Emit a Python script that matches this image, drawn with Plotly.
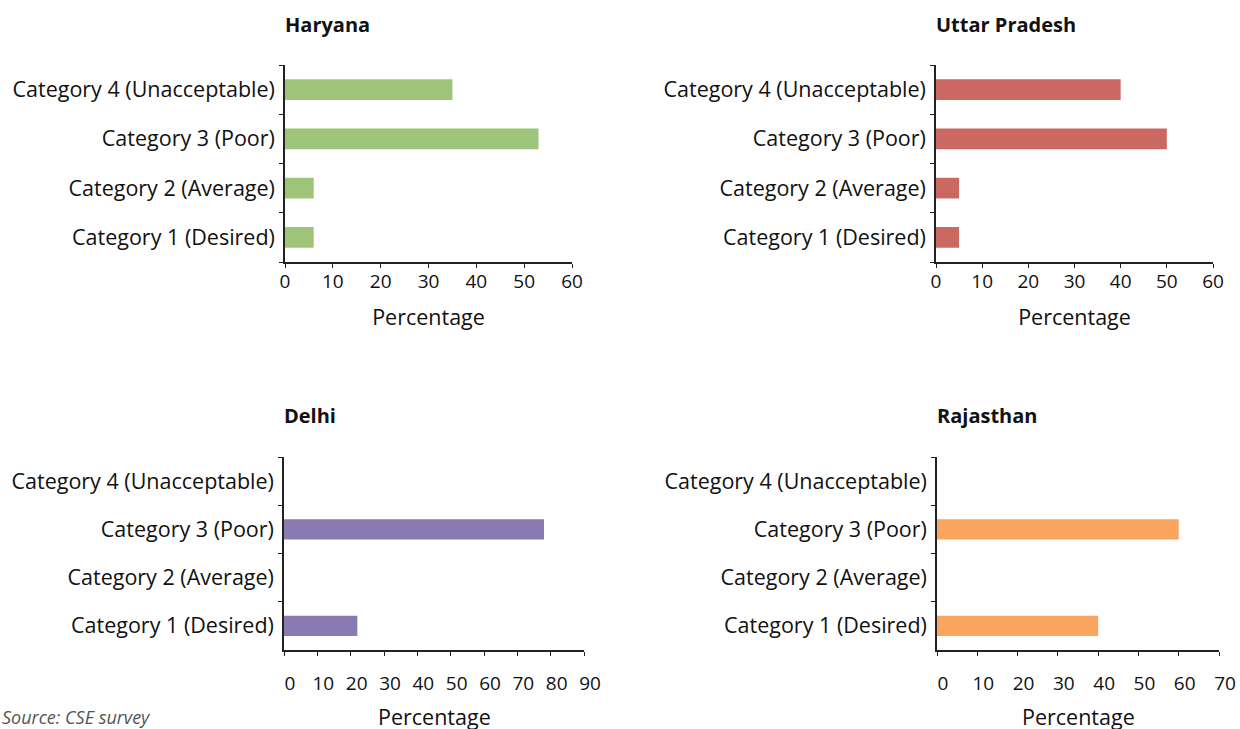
import plotly.graph_objects as go

categories = ["Category 1 (Desired)", "Category 2 (Average)",
              "Category 3 (Poor)", "Category 4 (Unacceptable)"]
states = ["Haryana", "Uttar Pradesh", "Delhi", "Rajasthan"]
haryana = [6, 6, 53, 35]
uttar_pradesh = [5, 5, 50, 40]
delhi = [22, 0, 78, 0]
rajasthan = [40, 0, 60, 0]
x_max = [60, 60, 90, 70]
colors = ["#9DC478", "#CB6862", "#8A7AB2", "#F9A55E"]
series = [haryana, uttar_pradesh, delhi, rajasthan]
x_title = "Percentage"

W, H = 1240, 729
FONT = "Open Sans"
FS = 21.5

# plot areas in pixels (left, right, top, bottom)
boxes = [(285, 572, 65, 262), (936, 1213, 65, 262),
         (284, 584, 457, 650), (937, 1219, 457, 650)]

fig = go.Figure()
for i, (vals, st, col, xm, box) in enumerate(zip(series, states, colors, x_max, boxes)):
    n = "" if i == 0 else str(i + 1)
    l, r, t, b = box
    fig.add_trace(go.Bar(
        x=vals, y=categories, orientation="h",
        marker=dict(color=col, line=dict(width=0)),
        xaxis="x" + n, yaxis="y" + n, showlegend=False,
        hoverinfo="x+y",
    ))
    bottom = i >= 2
    fig.update_layout(**{
        "xaxis" + n: dict(
            domain=[l / W, r / W], anchor="y" + n, automargin=False,
            range=[0, xm], dtick=10, tick0=0,
            showgrid=False, zeroline=False,
            showline=True, linecolor="#222", linewidth=1.5,
            ticks="outside", ticklen=4, tickcolor="#222", tickwidth=1.2,
            tickfont=dict(family=FONT, size=19, color="#111"),
            ticklabelstandoff=11 if bottom else -3,
            ticklabelshift=6 if bottom else 0,
            title=dict(text="" if bottom else x_title, standoff=17,
                       font=dict(family=FONT, size=FS, color="#111")),
            fixedrange=True,
        ),
        "yaxis" + n: dict(
            domain=[1 - b / H, 1 - t / H], anchor="x" + n, automargin=False,
            type="category", categoryorder="array", categoryarray=categories,
            range=[-0.5, 3.5],
            showgrid=False, zeroline=False,
            showline=True, linecolor="#222", linewidth=1.5,
            ticks="outside", tickson="boundaries", ticklen=4,
            tickcolor="#222", tickwidth=1.2,
            tickfont=dict(family=FONT, size=FS, color="#111"),
            ticklabelstandoff=4,
            fixedrange=True,
        ),
    })
    fig.add_annotation(
        text="<b>" + st + "</b>", xref="paper", yref="paper",
        x=l / W, y=1 - (t - 40) / H, xanchor="left", yanchor="middle",
        showarrow=False, font=dict(family=FONT, size=20, color="#111"),
        xshift=-2, yshift=1,
    )
    if bottom:
        fig.add_annotation(
            text=x_title, xref="x" + n + " domain", yref="paper",
            x=0.5, y=1 - 716 / H, xanchor="center", yanchor="middle",
            showarrow=False, font=dict(family=FONT, size=FS, color="#111"),
        )

fig.add_annotation(
    text="<i>Source: CSE survey</i>", xref="paper", yref="paper",
    x=0, y=1 - 717 / H, xanchor="left", yanchor="middle",
    showarrow=False, font=dict(family=FONT, size=18, color="#555"),
)

fig.update_layout(
    width=W, height=H, margin=dict(l=0, r=0, t=0, b=0, autoexpand=False),
    paper_bgcolor="white", plot_bgcolor="white",
    bargap=0.58,
)
fig.write_html("out.html", config={"displayModeBar": False},
               post_script="document.body.style.margin='0';"
                           "document.body.style.overflow='hidden';")
